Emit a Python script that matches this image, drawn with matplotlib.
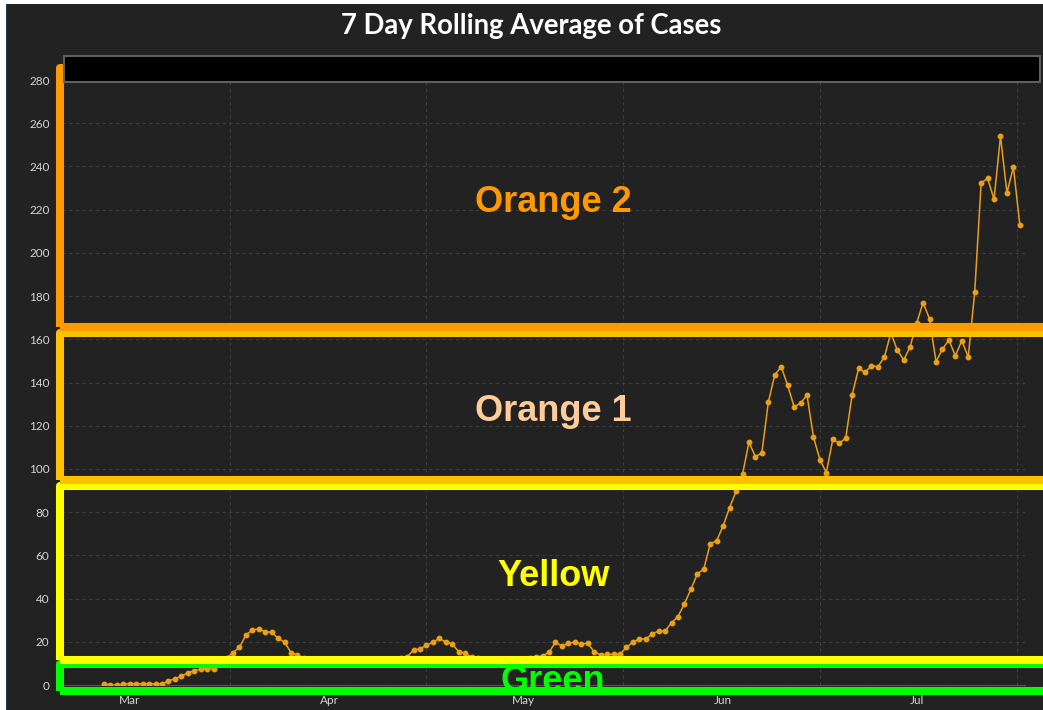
import numpy as np
import pandas as pd
import matplotlib
matplotlib.use('Agg')
import matplotlib.pyplot as plt
from matplotlib.patches import Rectangle
from matplotlib.transforms import blended_transform_factory

# 7 day rolling average, one value per day starting 2020-02-26
start_date = '2020-02-26'
cases = [0.5, 0, 0, 0.5, 0.5, 0.5, 0.5, 0.5, 0.5, 0.5,
         1.9, 2.9, 4.0, 5.7, 6.6, 7.3, 7.6, 7.3,
         10, 12.5,
         15.0, 17.4, 23.1, 25.5, 25.9, 24.7, 24.4, 21.6, 19.8, 15.0, 13.9,
         12.5, 12, 11.5, 11, 11, 10.5, 10.5, 10, 10, 10.5, 11, 11, 11.5, 12, 12, 12.5, 13,
         16.2, 16.7, 18.4, 19.8, 21.6, 19.8, 19.0, 15.4, 14.7,
         13, 12.5, 12, 11.5, 11, 11, 11, 11.5, 12, 12.5, 13, 13.5,
         15.1, 19.8, 18.0, 19.3, 19.8, 19.0, 19.3, 15.4, 13.9, 14.2, 14.2, 14.2,
         17.4, 19.8, 21.3, 21.3, 23.6, 25.0, 25.0, 28.8, 31.7,
         37.6, 44.3, 51.4, 53.7, 65.4, 66.8, 73.7, 82.1, 89.6, 97.5,
         112.3, 105.7, 107.4, 130.8, 143.5, 147.3, 138.7, 128.8, 130.4, 134.2,
         114.8, 104.3, 98.3, 113.7, 111.9, 114.2, 134.2, 146.5, 144.7, 147.8,
         147.3, 151.8, 163, 155, 150.4, 156.6, 167.5, 177, 169.4, 149.7,
         155.4, 159.7, 152.3, 159.4, 151.8,
         181.7, 232.3, 234.5, 224.8, 253.9, 227.8, 239.7, 212.9]

month_starts = ['2020-03-01', '2020-04-01', '2020-05-01', '2020-06-01', '2020-07-01']
month_labels = ['Mar', 'Apr', 'May', 'Jun', 'Jul']
y_ticks = list(range(0, 281, 20))

# threshold bands drawn over the chart
band_names = ['Green', 'Yellow', 'Orange 1', 'Orange 2']
band_lo = [-2.7, 11.8, 94.9, 165.7]
band_hi = [9.5, 92.3, 162.9, 285.6]
band_edge = ['#00FF00', '#FFFF00', '#FFC000', '#FF9900']
band_text = ['#00FF00', '#FFFF00', '#FFCC99', '#FF9900']
label_y = [1.6, 50.0, 126.4, 223.4]

bg = '#222222'
W, H = 1043, 710

dates = pd.date_range(start_date, periods=len(cases), freq='D')
ms = pd.to_datetime(month_starts)
mid_month = ms + pd.to_timedelta(ms.days_in_month / 2, unit='D')

fig = plt.figure(figsize=(W / 100, H / 100), dpi=100, facecolor=bg)
ax = fig.add_axes([62 / W, 25 / H, 963 / W, 621.2 / H])
ax.set_facecolor(bg)

ax.plot(dates, cases, color='#E9A016', lw=1.1, marker='o', ms=3.2, zorder=3)

ax.set_ylim(0, 287.5)
ax.set_xlim(dates[0] - pd.Timedelta(days=6.51), dates[0] + pd.Timedelta(days=142.8))
ax.set_yticks(y_ticks)
ax.set_xticks(ms)
ax.set_xticklabels(month_labels)
ax.set_xticks(mid_month, minor=True)
ax.tick_params(axis='both', which='both', length=0, colors='#d4d4d4', labelsize=8.5)
ax.tick_params(axis='y', pad=9)
ax.tick_params(axis='x', pad=7)
for lab in ax.get_xticklabels() + ax.get_yticklabels():
    lab.set_fontfamily('Lato')
ax.grid(axis='y', which='major', color='#3c3c3c', ls=(0, (3, 3)), lw=0.8)
ax.grid(axis='x', which='minor', color='#3c3c3c', ls=(0, (3, 3)), lw=0.8)
ax.grid(axis='x', which='major', visible=False)
for s in ['top', 'right', 'left']:
    ax.spines[s].set_visible(False)
ax.spines['bottom'].set_color('#555555')
ax.set_axisbelow(True)

trans = blended_transform_factory(ax.transAxes, ax.transData)
for i in range(len(band_names)):
    r = Rectangle((-0.0016, band_lo[i]), 1.2, band_hi[i] - band_lo[i], transform=trans,
                  fill=False, edgecolor=band_edge[i], lw=5.8, joinstyle='round',
                  clip_on=False, zorder=5)
    ax.add_patch(r)
for i in range(len(band_names)):
    ax.text(0.51, label_y[i], band_names[i], transform=trans, color=band_text[i],
            fontsize=26, fontweight='bold', family='Liberation Sans',
            ha='center', va='center', zorder=6)

# black box across the top of the plot
fig.patches.append(Rectangle((64 / W, 1 - 82 / H), 976 / W, 26 / H, transform=fig.transFigure,
                             facecolor='black', edgecolor='#5f5f5f', lw=1.5, zorder=10))
fig.patches.append(Rectangle((1041 / W, 1 - 84 / H), 3 / W, 30 / H, transform=fig.transFigure,
                             facecolor=bg, edgecolor='none', zorder=10))
# page edge
fig.patches.append(Rectangle((0, 0), 6 / W, 1, transform=fig.transFigure,
                             facecolor='white', edgecolor='none', zorder=11))
fig.patches.append(Rectangle((0, 1 - 4 / H), 1, 4 / H, transform=fig.transFigure,
                             facecolor='white', edgecolor='none', zorder=11))
fig.patches.append(Rectangle((6 / W, 0), 1.2 / W, 1 - 4 / H, transform=fig.transFigure,
                             facecolor='#2b3a4c', edgecolor='none', zorder=11))

fig.text(531 / W, 1 - 26 / H, '7 Day Rolling Average of Cases', color='white',
         fontsize=19.8, fontweight='bold', family='Lato', ha='center', va='center')

fig.savefig('out.png', dpi=100, facecolor=bg)
